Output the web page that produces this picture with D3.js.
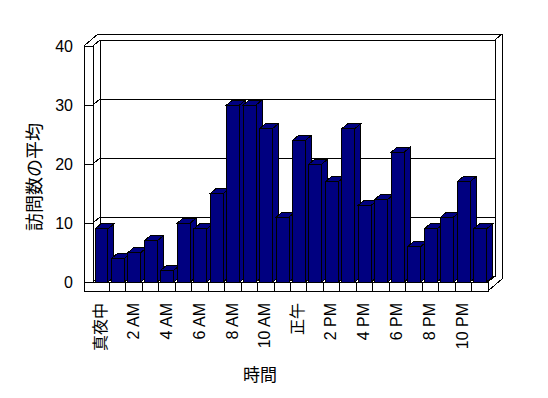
<!DOCTYPE html>
<meta charset="utf-8">
<script src="https://d3js.org/d3.v7.min.js"></script>
<style>
  body { margin: 0; background: #fff; }
  svg text { font-family: "Liberation Sans", "Noto Sans CJK JP", sans-serif; fill: #000; }
</style>
<svg id="chart" width="548" height="398"></svg>
<script>
// categories (24 hours)
var hours = ["真夜中", "1 AM", "2 AM", "3 AM", "4 AM", "5 AM", "6 AM", "7 AM", "8 AM", "9 AM", "10 AM", "11 AM",
             "正午", "1 PM", "2 PM", "3 PM", "4 PM", "5 PM", "6 PM", "7 PM", "8 PM", "9 PM", "10 PM", "11 PM"];
var visits = [9, 4, 5, 7, 2, 10, 9, 15, 30, 30, 26, 11, 24, 20, 17, 26, 13, 14, 22, 6, 9, 11, 17, 9];
var yTicks = [0, 10, 20, 30, 40];
var xTickLabels = hours.filter(function(d, i) { return i % 2 === 0; });
var yTitle = "訪問数の平均",
    xTitle = "時間";

var svg = d3.select('#chart');

var x = d3.scaleBand().domain(hours).range([93, 488]);
var y = d3.scaleLinear().domain([0, 40]).range([282, 46]);

var dx = 7, dy = -6;   // one step of depth (floor, walls)
var bx = 6, by = -5;   // depth of a bar

var x0 = x.range()[0], x1 = x.range()[1],
    yb = y(0), yt = y(40),
    wall = 9;          // thickness of left wall / floor front face

var g = svg.append('g')
    .attr('fill', 'none')
    .attr('stroke', '#000')
    .attr('stroke-width', 1)
    .style('shape-rendering', 'crispEdges');

function line(ax, ay, bx_, by_) {
  g.append('line').attr('x1', ax).attr('y1', ay).attr('x2', bx_).attr('y2', by_);
}

// back wall inner face
g.append('rect')
    .attr('x', x0 + dx).attr('y', yt + dy)
    .attr('width', x1 - x0).attr('height', yb - yt)
    .attr('fill', '#fff');

// outer edges of walls
line(x0 - wall, yt, x0 - wall + 2 * dx, yt + 2 * dy);
line(x0 - wall + 2 * dx, yt + 2 * dy, x1 + 2 * dx, yt + 2 * dy);
line(x1 + 2 * dx, yt + 2 * dy, x1 + 2 * dx, yb + wall + 2 * dy);
line(x0, yt, x0 + dx, yt + dy);
line(x1 + dx, yt + dy, x1 + 2 * dx, yt + 2 * dy);
line(x1 + dx, yt + dy, x1 + dx, yb + dy);
line(x0 + dx, yt + dy, x0 + dx, yb + dy);

// left wall front face
line(x0 - wall, yt, x0 - wall, yb + wall);
line(x0, yt, x0, yb);
line(x0 - wall, yt, x0, yt);

// gridlines
yTicks.forEach(function(v) {
  line(x0 + dx, y(v) + dy, x1 + dx, y(v) + dy);
  line(x0, y(v), x0 + dx, y(v) + dy);
  line(x0 - wall, y(v), x0, y(v));
});

// floor: front face and right side
g.append('rect')
    .attr('x', x0 - wall).attr('y', yb)
    .attr('width', x1 - x0 + wall).attr('height', wall)
    .attr('fill', '#fff');
hours.slice(1).forEach(function(h) {
  line(x(h), yb, x(h), yb + wall);
});
line(x1, yb, x1 + dx, yb + dy);
line(x1, yb + wall, x1 + 2 * dx, yb + wall + 2 * dy);

// bars
var barW = x.bandwidth() - 3.5;
var bars = svg.append('g')
    .attr('fill', '#000080')
    .attr('stroke', '#000')
    .style('shape-rendering', 'crispEdges')
  .selectAll('g')
  .data(visits)
  .enter().append('g');

bars.append('polygon')   // side
    .attr('points', function(d, i) {
      var a = x(hours[i]) + 2 + barW;
      return [[a, y(d)], [a + bx, y(d) + by], [a + bx, yb + by], [a, yb]].join(' ');
    });
bars.append('polygon')   // top
    .attr('points', function(d, i) {
      var a = x(hours[i]) + 2;
      return [[a, y(d)], [a + bx, y(d) + by], [a + barW + bx, y(d) + by], [a + barW, y(d)]].join(' ');
    });
bars.append('rect')      // front
    .attr('x', function(d, i) { return x(hours[i]) + 2; })
    .attr('y', function(d) { return y(d); })
    .attr('width', barW)
    .attr('height', function(d) { return yb - y(d); });

// axes (labels only)
var yAxis = svg.append('g')
    .attr('transform', 'translate(76,0)')
    .call(d3.axisLeft(y).tickValues(yTicks).tickSize(0).tickPadding(3));
yAxis.select('.domain').remove();
yAxis.selectAll('text').style('font-size', '16px').attr('font-family', null);

var xAxis = svg.append('g')
    .attr('transform', 'translate(-1,' + 300 + ')')
    .call(d3.axisBottom(x).tickValues(xTickLabels).tickSize(0));
xAxis.select('.domain').remove();
xAxis.selectAll('text')
    .style('font-size', '16px')
    .attr('font-family', null)
    .attr('text-anchor', 'end')
    .attr('dy', '0.35em')
    .attr('y', 0)
    .attr('x', -3)
    .attr('transform', 'rotate(-90)');

// titles
svg.append('text')
    .attr('transform', 'translate(35,177) rotate(-90)')
    .attr('text-anchor', 'middle')
    .attr('dy', '0.35em')
    .style('font-size', '18px')
    .text(yTitle);

svg.append('text')
    .attr('x', 260).attr('y', 375)
    .attr('text-anchor', 'middle')
    .attr('dy', '0.35em')
    .style('font-size', '17px')
    .text(xTitle);
</script>
